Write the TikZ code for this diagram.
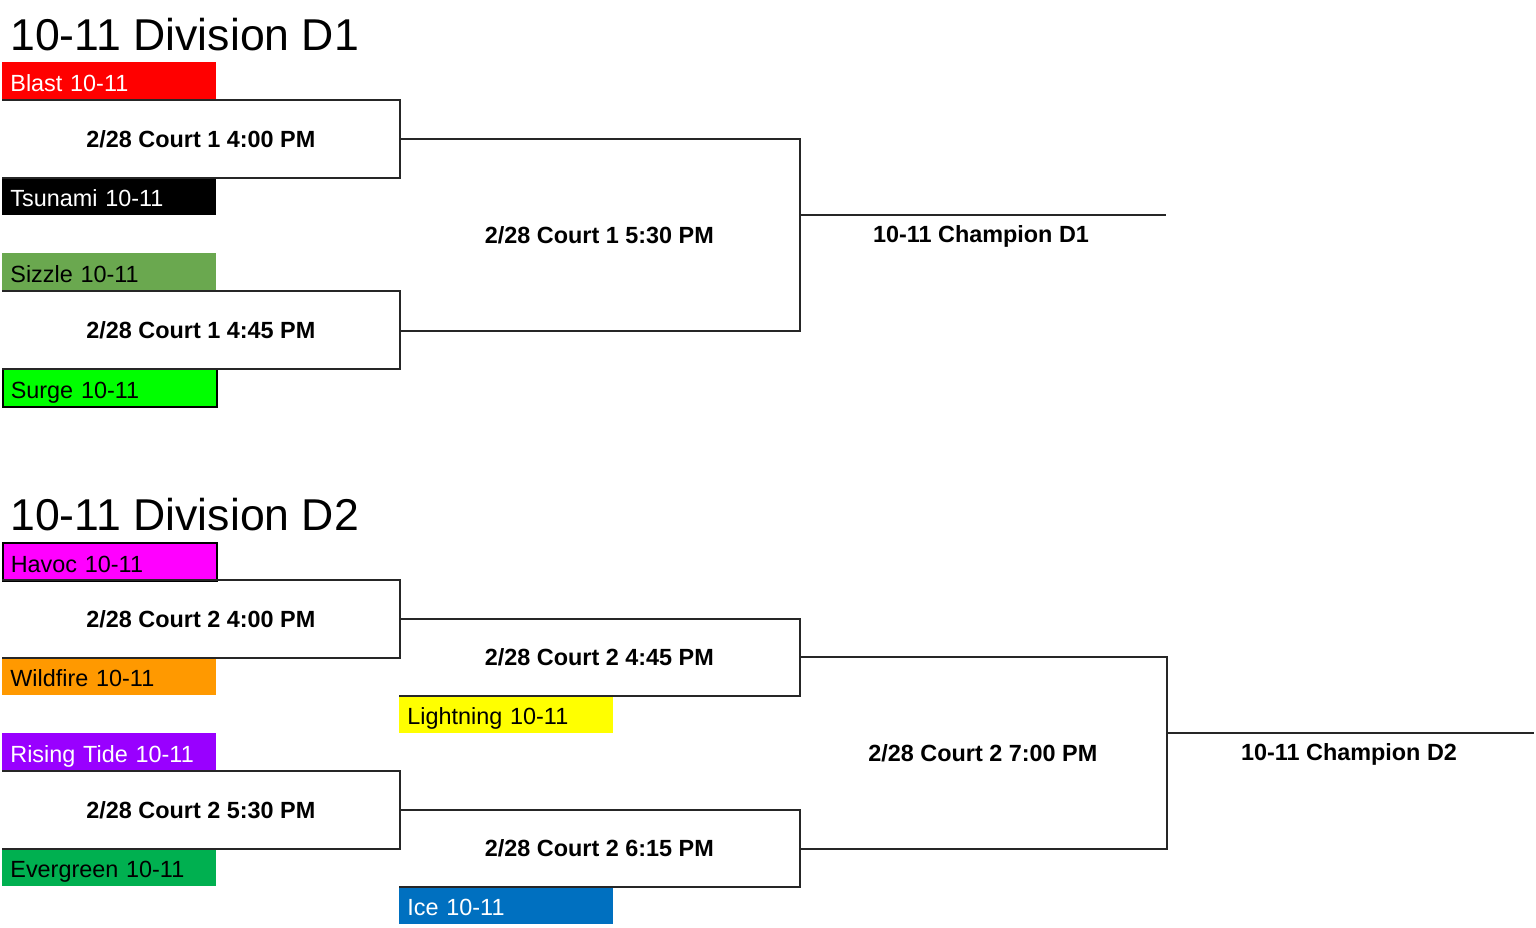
\documentclass[tikz,border=0pt]{standalone}
\usepackage{fontspec}
\setmainfont{Liberation Sans}
\usetikzlibrary{positioning}
\definecolor{blastred}{RGB}{255,0,0}
\definecolor{sizzlegreen}{RGB}{106,168,79}
\definecolor{surgegreen}{RGB}{0,255,0}
\definecolor{havocpink}{RGB}{255,0,255}
\definecolor{wildorange}{RGB}{255,153,0}
\definecolor{tidepurple}{RGB}{153,0,255}
\definecolor{evergreen}{RGB}{0,176,80}
\definecolor{boltyellow}{RGB}{255,255,0}
\definecolor{iceblue}{RGB}{0,112,192}
\tikzset{
  team/.style={anchor=north west, text width=99pt, inner xsep=4pt, inner ysep=0pt,
    minimum height=19pt, text height=10.5pt, text depth=0pt, align=left,
    font=\fontsize{11.7}{14}\selectfont},
  game/.style={anchor=north west, inner sep=0pt, font=\bfseries\fontsize{11.7}{14}\selectfont},
  bracket/.style={line width=1pt, draw=black!85},
  divtitle/.style={anchor=base west, inner sep=0pt, font=\fontsize{22.3}{26}\selectfont}
}

\begin{document}
\begin{tikzpicture}[x=0.5pt, y=-0.5pt]
    \useasboundingbox (0,0) rectangle (1536,927);

    % Division D1
    \node[divtitle] (title1) at (10,50) {10-11 Division D1};
    \node[team, fill=blastred, text=white] (blast) at (2,62) {Blast 10-11};
    \node[team, fill=black, text=white] (tsunami) at (2,177) {Tsunami 10-11};
    \node[team, fill=sizzlegreen] (sizzle) at (2,253) {Sizzle 10-11};
    \node[team, fill=surgegreen, draw=black, line width=0.8pt] (surge) at (2,368) {Surge 10-11};

    % D1 games
    \node[game, minimum width=198.5pt, minimum height=38.5pt] (m1) at (2,100) {2/28 Court 1 4:00 PM};
    \node[game, minimum width=198.5pt, minimum height=38.5pt] (m2) at (2,291) {2/28 Court 1 4:45 PM};
    \node[game, minimum width=200pt, minimum height=95.5pt] (s1) at (399,139) {2/28 Court 1 5:30 PM};

    % D1 champion
    \coordinate (champ1) at (1166,215);
    \draw[bracket] (s1.east |- champ1) -- (champ1);
    \node[game, anchor=center] (champ1txt) at (981,236) {10-11 Champion D1};

    % Division D2
    \node[divtitle] (title2) at (10,530) {10-11 Division D2};
    \node[team, fill=havocpink, draw=black, line width=0.8pt] (havoc) at (2,542) {Havoc 10-11};
    \node[team, fill=wildorange] (wildfire) at (2,657) {Wildfire 10-11};
    \node[team, fill=tidepurple, text=white] (tide) at (2,733) {Rising Tide 10-11};
    \node[team, fill=evergreen] (evergreen) at (2,848) {Evergreen 10-11};
    \node[team, fill=boltyellow] (lightning) at (399,695) {Lightning 10-11};
    \node[team, fill=iceblue, text=white] (ice) at (399,886) {Ice 10-11};

    % D2 games
    \node[game, minimum width=198.5pt, minimum height=38.5pt] (m3) at (2,580) {2/28 Court 2 4:00 PM};
    \node[game, minimum width=198.5pt, minimum height=38.5pt] (m4) at (2,771) {2/28 Court 2 5:30 PM};
    \node[game, minimum width=200pt, minimum height=38pt] (r2a) at (399,619) {2/28 Court 2 4:45 PM};
    \node[game, minimum width=200pt, minimum height=38pt] (r2b) at (399,810) {2/28 Court 2 6:15 PM};
    \node[game, minimum width=183.5pt, minimum height=95.5pt] (fin) at (799,657) {2/28 Court 2 7:00 PM};

    % D2 champion
    \coordinate (champ2) at (1534,733);
    \draw[bracket] (fin.east |- champ2) -- (champ2);
    \node[game, anchor=center] (champ2txt) at (1349,754) {10-11 Champion D2};

    % brackets open on the left
    \foreach \g in {m1,m2,s1,m3,m4,r2a,r2b,fin}
        \draw[bracket] (\g.north west) -- (\g.north east) -- (\g.south east) -- (\g.south west);
\end{tikzpicture}
\end{document}
